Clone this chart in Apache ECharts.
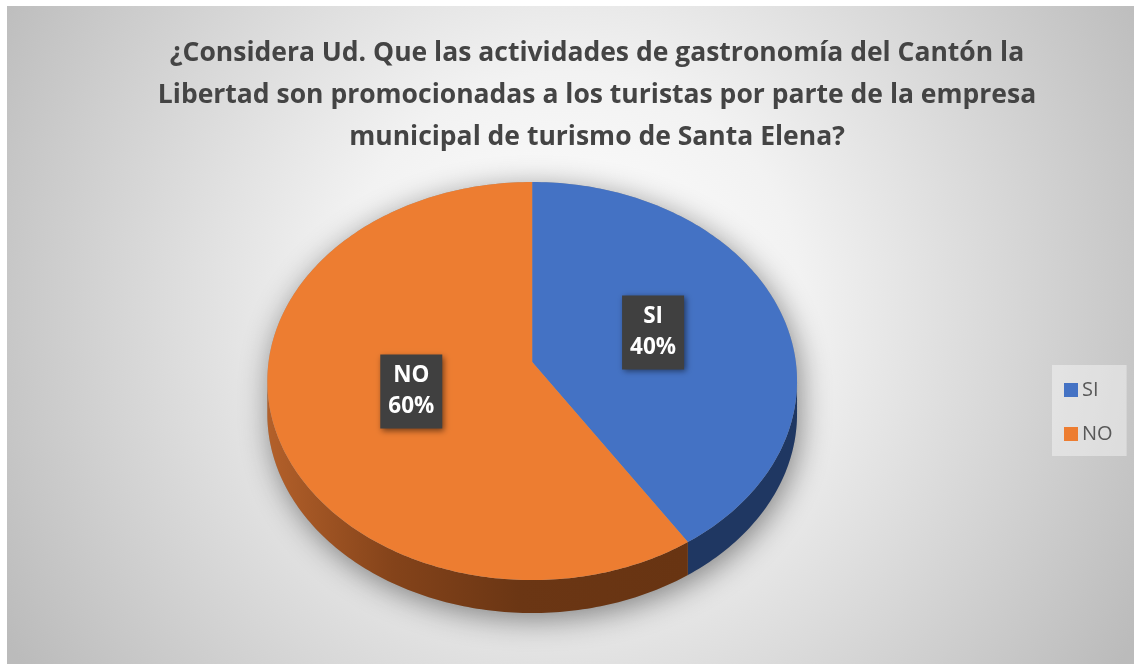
<!DOCTYPE html>
<html>
<head>
<meta charset="utf-8">
<script src="https://cdn.jsdelivr.net/npm/echarts@6/dist/echarts.min.js"></script>
<style>
    html, body { margin: 0; background: #fff; }
    #chart { position: absolute; left: 7px; top: 6px; width: 1127px; height: 658px; }
</style>
</head>
<body>
<div id="chart"></div>
<script>
const categories = ['SI', 'NO']
const values = [40, 60]
const colors = ['#4472c4', '#ed7d31']
const titleLines = [
    '¿Considera Ud. Que las actividades de gastronomía del Cantón la',
    'Libertad son promocionadas a los turistas por parte de la empresa',
    'municipal de turismo de Santa Elena?'
]

const total = values.reduce((a, b) => a + b, 0)
const startAngles = []
let acc = 0
values.forEach(v => { startAngles.push(acc / total * 360); acc += v })

// side wall colours (darker shades of the slice)
const sideFills = [
    '#1f3762',
    { type: 'linear', x: 0, y: 0, x2: 1, y2: 0, colorStops: [
        { offset: 0, color: '#b3602a' },
        { offset: 0.3, color: '#84431a' },
        { offset: 0.6, color: '#6b3614' },
        { offset: 1, color: '#683412' }
    ] }
]

function geom(W, H) {
    return {
        cx: W * 0.466, cy: H * 0.57,
        rx: W * 0.235, ry: H * 0.3025,
        lift: H * 0.029, depth: H * 0.05
    }
}

function pt(g, deg, dy) {
    const r = deg * Math.PI / 180
    return [g.cx + g.rx * Math.sin(r), g.cy - g.ry * Math.cos(r) + dy]
}

function arc(g, a0, a1, dy) {
    const pts = []
    const n = Math.max(2, Math.ceil(a1 - a0))
    for (let k = 0; k <= n; k++) pts.push(pt(g, a0 + (a1 - a0) * k / n, dy))
    return pts
}

function sliceRender(i) {
    return function (params, api) {
        const g = geom(api.getWidth(), api.getHeight())
        const v = api.value(0)
        const start = startAngles[i]
        const end = start + v / total * 360
        const apex = [g.cx, g.cy - g.lift]
        const children = []

        const a0 = Math.max(start, 90), a1 = Math.min(end, 270)
        if (a1 > a0) {
            const top = arc(g, a0, a1, 0)
            const bottom = arc(g, a0, a1, g.depth).reverse()
            children.push({
                type: 'polygon', z2: 1,
                shape: { points: top.concat(bottom) },
                style: { fill: sideFills[i] }
            })
        }
        children.push({
            type: 'polygon', z2: 2,
            shape: { points: [apex].concat(arc(g, start, end, 0)) },
            style: { fill: colors[i] }
        })

        const mid = (start + end) / 2 * Math.PI / 180
        const k = 0.48
        const lx = apex[0] + k * g.rx * Math.sin(mid)
        const ly = apex[1] - k * g.ry * Math.cos(mid)
        children.push({
            type: 'text', z2: 5, x: lx, y: ly,
            style: {
                text: categories[i] + '\n' + Math.round(v / total * 100) + '%',
                fill: '#fff',
                font: 'bold 22.5px "Open Sans"',
                align: 'center', verticalAlign: 'middle',
                lineHeight: 31,
                backgroundColor: '#404040',
                padding: [8, 8, 4, 8],
                shadowBlur: 6, shadowColor: 'rgba(0,0,0,0.5)',
                shadowOffsetX: 2, shadowOffsetY: 2
            }
        })
        return { type: 'group', children }
    }
}

function shadowRender(params, api) {
    const g = geom(api.getWidth(), api.getHeight())
    const pts = arc(g, -90, 90, 0).concat(arc(g, 90, 270, g.depth))
    return {
        type: 'polygon',
        shape: { points: pts },
        style: {
            fill: '#9a9a9a',
            shadowBlur: 30, shadowColor: 'rgba(0,0,0,0.45)',
            shadowOffsetX: 3, shadowOffsetY: 6
        }
    }
}

const chart = echarts.init(document.getElementById('chart'))

const series = [{
    type: 'custom', name: 'shadow', z: 1, silent: true,
    coordinateSystem: 'none',
    renderItem: shadowRender,
    data: [total]
}]
categories.forEach((c, i) => {
    series.push({
        type: 'custom', name: c, z: 2,
        coordinateSystem: 'none',
        itemStyle: { color: colors[i] },
        renderItem: sliceRender(i),
        data: [values[i]]
    })
})

chart.setOption({
    backgroundColor: {
        type: 'radial', x: 0.5, y: 0.45, r: 1.0,
        colorStops: [
            { offset: 0, color: '#ffffff' },
            { offset: 0.35, color: '#f2f2f2' },
            { offset: 1, color: '#bbbbbb' }
        ]
    },
    animation: false,
    graphic: [{
        type: 'text', x: 590, y: 26,
        style: {
            text: titleLines.join('\n'),
            align: 'center',
            font: 'bold 26.5px "Open Sans"',
            lineHeight: 42,
            fill: '#444444'
        }
    }],
    legend: {
        data: categories,
        orient: 'vertical',
        left: 1045, top: 359,
        padding: [15, 14, 12, 12],
        backgroundColor: 'rgba(255,255,255,0.4)',
        icon: 'rect',
        itemWidth: 14, itemHeight: 14,
        itemGap: 24,
        textStyle: { fontFamily: 'Open Sans', fontSize: 20, color: '#595959', padding: [6, 0, 0, -1] }
    },
    series
})
</script>
</body>
</html>
